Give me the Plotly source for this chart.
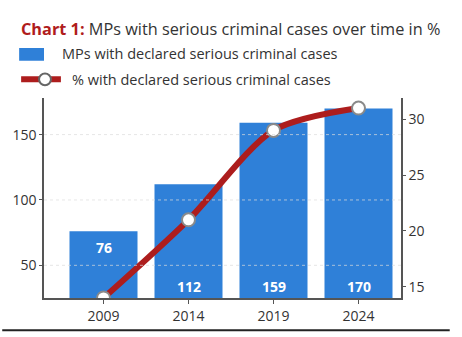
import plotly.graph_objects as go

# Data
years = ["2009", "2014", "2019", "2024"]
mps_serious_cases = [76, 112, 159, 170]
pct_serious_cases = [14, 21, 29, 31]

# Canvas geometry (pixels)
W, H = 462, 337
L, R, T, B = 42, 61, 98, 35
PW, PH = W - L - R, H - T - B

def px(x):
    return (x - L) / PW

def py(y):
    return (H - B - y) / PH

FONT = "Open Sans"
BLUE = "#2f80d8"
RED = "#ad1d1d"
TEXT = "#333333"

fig = go.Figure()

fig.add_trace(go.Bar(
    x=list(range(len(years))), y=mps_serious_cases,
    marker=dict(color=BLUE, line=dict(width=0)),
    width=0.8, showlegend=False, hoverinfo="skip",
))

fig.add_trace(go.Scatter(
    x=list(range(len(years))), y=pct_serious_cases, yaxis="y2",
    mode="lines+markers",
    line=dict(color=RED, width=6, shape="spline", smoothing=0.8),
    marker=dict(size=13, color="white", line=dict(color="#8a8a8a", width=2)),
    showlegend=False, hoverinfo="skip",
))

left_range = [25, 178]

# Bar value labels
for i, v in enumerate(mps_serious_cases):
    if i == 0:
        fig.add_annotation(x=i, y=v, yshift=-16, text=f"<b>{v}</b>", showarrow=False,
                           font=dict(family=FONT, size=14, color="white"))
    else:
        fig.add_annotation(x=i, y=left_range[0], yshift=12, text=f"<b>{v}</b>", showarrow=False,
                           font=dict(family=FONT, size=14, color="white"))

shapes = []
# Dotted grid lines drawn over the bars
for g in [50, 100, 150]:
    shapes.append(dict(type="line", xref="paper", yref="y", x0=0, x1=1, y0=g, y1=g,
                       line=dict(color="rgba(220,220,220,0.7)", width=1, dash="dot"),
                       layer="above"))

# Legend swatches
shapes.append(dict(type="rect", xref="paper", yref="paper",
                   x0=px(17), x1=px(42), y0=py(60), y1=py(47),
                   fillcolor=BLUE, line=dict(width=0)))
shapes.append(dict(type="line", xref="paper", yref="paper",
                   x0=px(19), x1=px(59), y0=py(79), y1=py(79),
                   line=dict(color=RED, width=6)))
shapes.append(dict(type="circle", xref="paper", yref="paper",
                   x0=px(37), x1=px(49), y0=py(85), y1=py(73),
                   fillcolor="white", line=dict(color="#666666", width=2)))
# Bottom rule
shapes.append(dict(type="line", xref="paper", yref="paper",
                   x0=px(0), x1=px(450), y0=py(335), y1=py(335),
                   line=dict(color="#222222", width=2)))

fig.add_annotation(xref="paper", yref="paper", x=px(17), y=py(28), xanchor="left", yanchor="middle",
                   text="<b><span style='color:#b01c1c'>Chart 1:</span></b> MPs with serious criminal cases over time in %",
                   showarrow=False, font=dict(family=FONT, size=16.3, color=TEXT))
fig.add_annotation(xref="paper", yref="paper", x=px(58), y=py(53), xanchor="left", yanchor="middle",
                   text="MPs with declared serious criminal cases",
                   showarrow=False, font=dict(family=FONT, size=14.5, color=TEXT))
fig.add_annotation(xref="paper", yref="paper", x=px(68), y=py(79), xanchor="left", yanchor="middle",
                   text="% with declared serious criminal cases",
                   showarrow=False, font=dict(family=FONT, size=14.5, color=TEXT))

fig.update_layout(
    width=W, height=H,
    margin=dict(l=L, r=R, t=T, b=B),
    paper_bgcolor="white", plot_bgcolor="white",
    bargap=0.2,
    shapes=shapes,
    font=dict(family=FONT, size=14, color=TEXT),
    xaxis=dict(
        tickmode="array", tickvals=list(range(len(years))), ticktext=years,
        range=[-0.7, 3.5], showgrid=False, zeroline=False,
        showline=True, linecolor="#555555", linewidth=1.5,
        ticks="outside", ticklen=4, tickcolor="#555555",
        tickfont=dict(family=FONT, size=14, color=TEXT),
    ),
    yaxis=dict(
        range=left_range, tickvals=[50, 100, 150],
        showgrid=False, zeroline=False,
        showline=True, linecolor="#555555", linewidth=1.5,
        ticks="outside", ticklen=3, tickcolor="#555555",
        tickfont=dict(family=FONT, size=14, color=TEXT),
    ),
    yaxis2=dict(
        overlaying="y", side="right",
        range=[14, 31.9], tickvals=[15, 20, 25, 30],
        showgrid=False, zeroline=False,
        showline=True, linecolor="#555555", linewidth=1.5,
        ticks="outside", ticklen=3, tickcolor="#555555",
        tickfont=dict(family=FONT, size=14, color=TEXT),
    ),
)

fig.write_html("out.html")
